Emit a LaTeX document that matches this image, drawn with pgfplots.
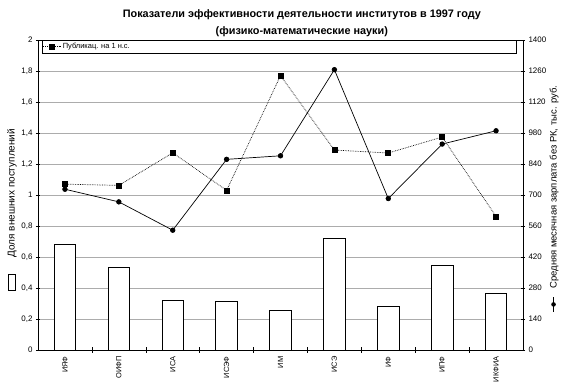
\documentclass[border=0pt]{standalone}
\usepackage{fontspec}
\setmainfont{Liberation Sans}
\usepackage{pgfplots}
\pgfplotsset{compat=1.18}
\begin{document}
\begin{tikzpicture}
\useasboundingbox (-38bp,-39bp) rectangle (529bp,350bp);
\pgfplotsset{every axis/.append style={
  scale only axis, width=485bp, height=310bp,
  xmin=-0.5, xmax=8.5, tick align=center,
  /pgf/number format/use comma, /pgf/number format/1000 sep={},
  /pgf/number format/assume math mode=true,
  scaled y ticks=false,
  tick label style={font=\fontsize{8}{9}\selectfont},
  major tick length=4bp, minor tick length=5bp,
  every tick/.style={black, line width=0.5pt},
  axis line style={line width=0.6pt},
}}
\begin{axis}[
  ymin=0, ymax=2,
  ytick={0,0.2,0.4,0.6,0.8,1,1.2,1.4,1.6,1.8,2},
  ymajorgrids, grid style={gray!65, line width=0.5pt},
  ytick pos=left,
  xtick={0,1,2,3,4,5,6,7,8},
  xticklabels={ИЯФ,ОИФП,ИСА,ИСЭФ,ИМ,ИСЭ,ИФ,ИПФ,ИКФИА},
  major x tick style={draw=none},
  minor xtick={0.5,1.5,2.5,3.5,4.5,5.5,6.5,7.5},
  xtick pos=bottom,
  xticklabel style={rotate=90, anchor=east, font=\fontsize{7.5}{8}\selectfont, xshift=-1bp},
  ylabel={\tikz[baseline=-0.6ex]\draw[line width=0.6pt] (0,-3.5bp) rectangle (16bp,3.5bp);\hspace{17bp}Доля внешних поступлений},
  ylabel style={at={(rel axis cs:-0.0536,0.452)}, anchor=center, font=\fontsize{10}{11}\selectfont},
  title={Показатели эффективности деятельности институтов в 1997 году\\(физико-математические науки)},
  title style={font=\bfseries\fontsize{10.9}{17}\selectfont, align=center, at={(rel axis cs:0.544,1)}, anchor=south, yshift=-6bp},
  legend style={at={(rel axis cs:0.008,1)}, anchor=north west, draw=black, line width=0.5pt, inner sep=1pt, font=\fontsize{7.5}{9}\selectfont, fill=white},
  legend cell align=left,
]
\addplot[ybar, bar width=21.6bp, fill=white, draw=black, line width=0.8pt, forget plot] coordinates {
(0,0.68) (1,0.53) (2,0.317) (3,0.313) (4,0.255) (5,0.72) (6,0.283) (7,0.547) (8,0.368)};
\addplot[black, densely dotted, line width=0.7pt, mark=square*, mark size=2.5bp, mark options={solid}] coordinates {
(0,1.07) (1,1.062) (2,1.272) (3,1.03) (4,1.77) (5,1.29) (6,1.271) (7,1.374) (8,0.862)};
\addlegendentry{\makebox[450bp][l]{Публикац. на 1 н.с.}}
\end{axis}
\begin{axis}[
  ymin=0, ymax=1400,
  ytick={0,140,280,420,560,700,840,980,1120,1260,1400},
  axis y line*=right, axis x line=none,
  ylabel={\tikz[baseline=-0.6ex]{\draw[line width=0.7pt] (0,0)--(15bp,0); \fill (7.5bp,0) circle (2.3bp);}\hspace{8bp}Средняя месячная зарплата без РК, тыс. руб.},
  ylabel style={at={(rel axis cs:1.064,0.487)}, anchor=center, font=\fontsize{9.5}{11}\selectfont},
]
\addplot[black, line width=0.7pt, mark=*, mark size=2.3bp] coordinates {
(0,726) (1,669) (2,541) (3,861) (4,877) (5,1266) (6,684) (7,930) (8,990)};
\end{axis}
\end{tikzpicture}
\end{document}
